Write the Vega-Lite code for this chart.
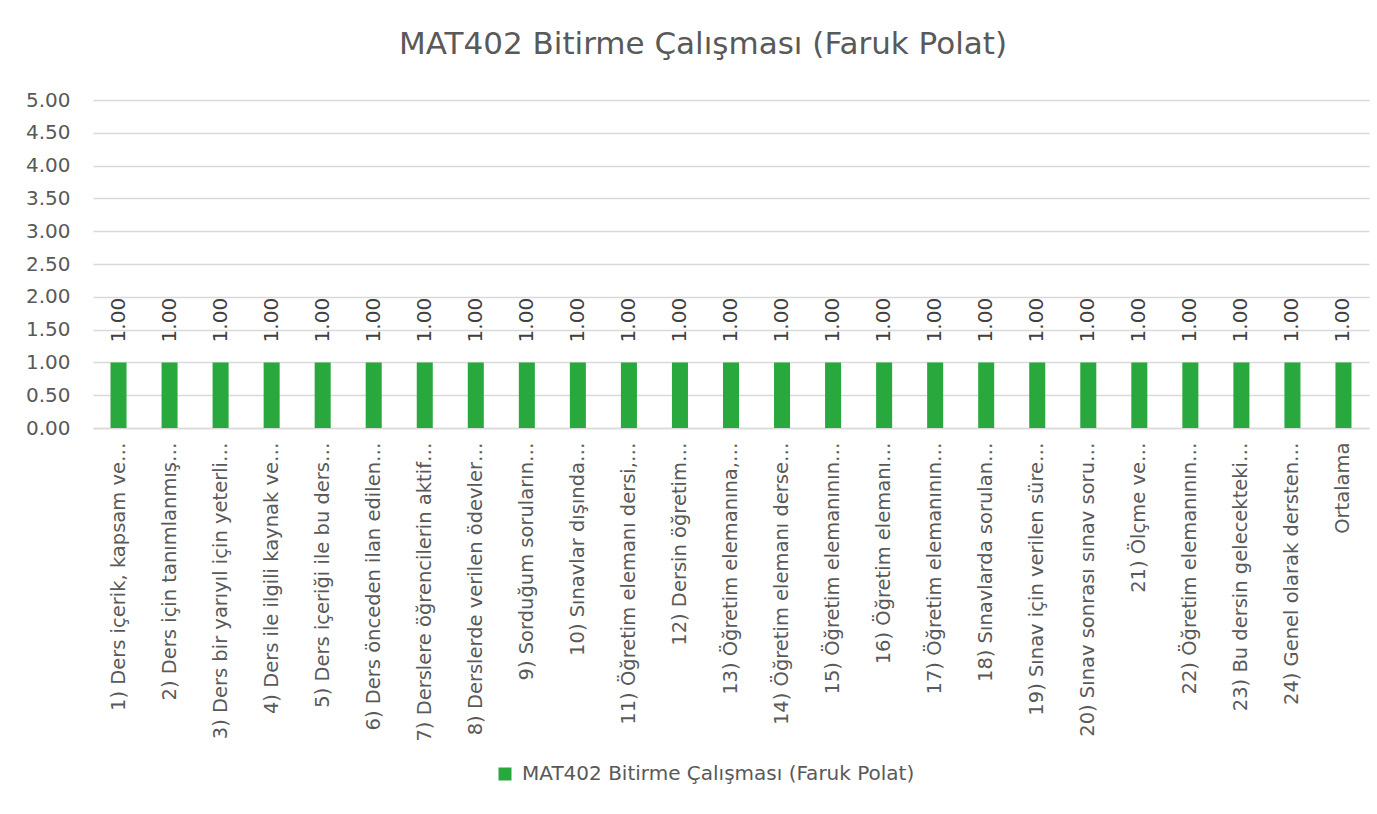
{
  "$schema": "https://vega.github.io/schema/vega-lite/v6.json",
  "autosize": {"type": "none"},
  "padding": {"left": 93, "top": 100, "right": 8, "bottom": 386},
  "width": 1276,
  "height": 328,
  "background": "white",
  "title": {
    "text": "MAT402 Bitirme Çalışması (Faruk Polat)",
    "font": "DejaVu Sans",
    "fontSize": 31,
    "fontWeight": "normal",
    "color": "#595959",
    "anchor": "middle",
    "dx": -28,
    "offset": 29
  },
  "data": {
    "values": [
      {"question": "1) Ders içerik, kapsam ve…", "score": 1, "series": "MAT402 Bitirme Çalışması (Faruk Polat)"},
      {"question": "2) Ders için tanımlanmış…", "score": 1, "series": "MAT402 Bitirme Çalışması (Faruk Polat)"},
      {"question": "3) Ders bir yarıyıl için yeterli…", "score": 1, "series": "MAT402 Bitirme Çalışması (Faruk Polat)"},
      {"question": "4) Ders ile ilgili kaynak ve…", "score": 1, "series": "MAT402 Bitirme Çalışması (Faruk Polat)"},
      {"question": "5) Ders içeriği ile bu ders…", "score": 1, "series": "MAT402 Bitirme Çalışması (Faruk Polat)"},
      {"question": "6) Ders önceden ilan edilen…", "score": 1, "series": "MAT402 Bitirme Çalışması (Faruk Polat)"},
      {"question": "7) Derslere öğrencilerin aktif…", "score": 1, "series": "MAT402 Bitirme Çalışması (Faruk Polat)"},
      {"question": "8) Derslerde verilen ödevler…", "score": 1, "series": "MAT402 Bitirme Çalışması (Faruk Polat)"},
      {"question": "9) Sorduğum soruların…", "score": 1, "series": "MAT402 Bitirme Çalışması (Faruk Polat)"},
      {"question": "10) Sınavlar dışında…", "score": 1, "series": "MAT402 Bitirme Çalışması (Faruk Polat)"},
      {"question": "11)  Öğretim elemanı dersi,…", "score": 1, "series": "MAT402 Bitirme Çalışması (Faruk Polat)"},
      {"question": "12) Dersin öğretim…", "score": 1, "series": "MAT402 Bitirme Çalışması (Faruk Polat)"},
      {"question": "13) Öğretim elemanına,…", "score": 1, "series": "MAT402 Bitirme Çalışması (Faruk Polat)"},
      {"question": "14) Öğretim elemanı derse…", "score": 1, "series": "MAT402 Bitirme Çalışması (Faruk Polat)"},
      {"question": "15) Öğretim elemanının…", "score": 1, "series": "MAT402 Bitirme Çalışması (Faruk Polat)"},
      {"question": "16) Öğretim elemanı…", "score": 1, "series": "MAT402 Bitirme Çalışması (Faruk Polat)"},
      {"question": "17) Öğretim elemanının…", "score": 1, "series": "MAT402 Bitirme Çalışması (Faruk Polat)"},
      {"question": "18) Sınavlarda sorulan…", "score": 1, "series": "MAT402 Bitirme Çalışması (Faruk Polat)"},
      {"question": "19) Sınav için verilen süre…", "score": 1, "series": "MAT402 Bitirme Çalışması (Faruk Polat)"},
      {"question": "20) Sınav sonrası sınav soru…", "score": 1, "series": "MAT402 Bitirme Çalışması (Faruk Polat)"},
      {"question": "21) Ölçme ve…", "score": 1, "series": "MAT402 Bitirme Çalışması (Faruk Polat)"},
      {"question": "22)  Öğretim elemanının…", "score": 1, "series": "MAT402 Bitirme Çalışması (Faruk Polat)"},
      {"question": "23) Bu dersin gelecekteki…", "score": 1, "series": "MAT402 Bitirme Çalışması (Faruk Polat)"},
      {"question": "24) Genel olarak dersten…", "score": 1, "series": "MAT402 Bitirme Çalışması (Faruk Polat)"},
      {"question": "Ortalama", "score": 1, "series": "MAT402 Bitirme Çalışması (Faruk Polat)"}
    ]
  },
  "encoding": {
    "x": {
      "field": "question",
      "type": "nominal",
      "sort": null,
      "title": null,
      "scale": {"paddingInner": 0.686, "paddingOuter": 0.343},
      "axis": {
        "labelAngle": -90,
        "labelFont": "DejaVu Sans",
        "labelFontSize": 19.5,
        "labelColor": "#595959",
        "labelPadding": 14,
        "labelLimit": 400,
        "ticks": false,
        "domain": true,
        "domainColor": "#d9d9d9",
        "domainWidth": 1.5,
        "grid": false
      }
    },
    "y": {
      "field": "score",
      "type": "quantitative",
      "title": null,
      "scale": {"domain": [0, 5], "nice": false},
      "axis": {
        "values": [0, 0.5, 1, 1.5, 2, 2.5, 3, 3.5, 4, 4.5, 5],
        "format": ".2f",
        "labelFont": "DejaVu Sans",
        "labelFontSize": 20,
        "labelColor": "#595959",
        "labelPadding": 23,
        "ticks": false,
        "domain": false,
        "grid": true,
        "gridColor": "#d9d9d9",
        "gridWidth": 1.5
      }
    }
  },
  "layer": [
    {
      "mark": {"type": "bar", "color": "#29A83E"},
      "encoding": {
        "color": {
          "field": "series",
          "type": "nominal",
          "scale": {"range": ["#29A83E"]},
          "legend": {
            "title": null,
            "orient": "none",
            "legendX": 402,
            "legendY": 664,
            "padding": 0,
            "symbolType": "square",
            "symbolSize": 169,
            "symbolStrokeWidth": 0,
            "labelFont": "DejaVu Sans",
            "labelFontSize": 20,
            "labelColor": "#595959",
            "labelOffset": 7,
            "labelLimit": 800
          }
        }
      }
    },
    {
      "mark": {
        "type": "text",
        "angle": 270,
        "align": "left",
        "baseline": "middle",
        "dx": 20,
        "font": "DejaVu Sans",
        "fontSize": 20,
        "color": "#404040"
      },
      "encoding": {
        "text": {"field": "score", "type": "quantitative", "format": ".2f"}
      }
    }
  ],
  "config": {
    "view": {"stroke": null}
  }
}
